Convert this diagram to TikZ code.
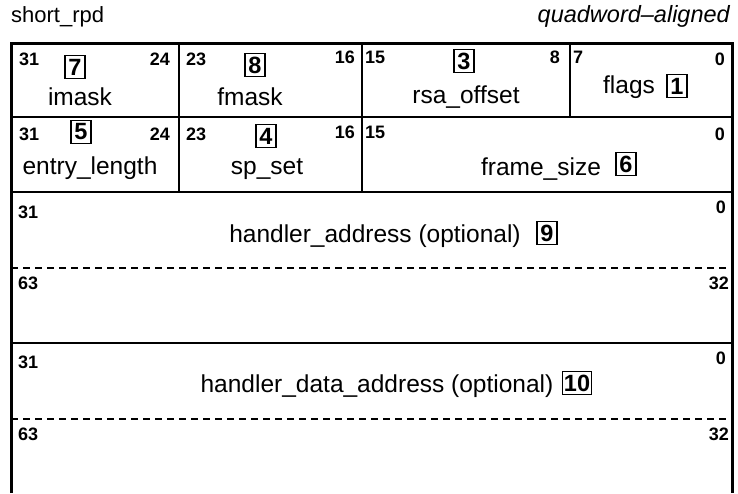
\documentclass[tikz,border=0pt]{standalone}
\usepackage{fontspec}
\setmainfont{Liberation Sans}

\begin{document}
\begin{tikzpicture}[x=1pt,y=-1pt,
  bitno/.style={font=\fontsize{18}{18}\selectfont\bfseries,inner sep=0pt},
  fieldname/.style={font=\fontsize{24.5}{24.5}\selectfont,inner sep=0pt,anchor=base},
  fieldno/.style={draw,line width=1.2pt,font=\fontsize{23.5}{23.5}\selectfont\bfseries,
    inner sep=3.4pt,minimum width=20pt},
  cellline/.style={line width=1.5pt},
  halfline/.style={line width=1.5pt,dash pattern=on 7pt off 5pt}]
\useasboundingbox (0,0) rectangle (738,493);
\node[font=\fontsize{22}{22}\selectfont,inner sep=0pt,anchor=base west] (title) at (11,22) {short\_rpd};
\node[font=\fontsize{23.5}{23.5}\selectfont\itshape,inner sep=0pt,anchor=base east] (align) at (730,22) {quadword–aligned};

% frame
\draw[line width=3pt] (11,493) -- (11,43) -- (732,43) -- (732,493);
\draw[cellline] (11,117) -- (732,117);
\draw[cellline] (11,192) -- (732,192);
\draw[halfline] (11,268) -- (732,268);
\draw[cellline] (11,343) -- (732,343);
\draw[halfline] (11,419) -- (732,419);
\draw[cellline] (179,43) -- (179,192);
\draw[cellline] (362,43) -- (362,192);
\draw[cellline] (570,43) -- (570,117);

% row 1
\node[bitno,anchor=base west] (r1b31) at (19,65) {31};
\node[bitno,anchor=base east] (r1b24) at (170,65) {24};
\node[bitno,anchor=base west] (r1b23) at (186,65) {23};
\node[bitno,anchor=base east] (r1b16) at (355,63) {16};
\node[bitno,anchor=base west] (r1b15) at (365,63) {15};
\node[bitno,anchor=base east] (r1b8) at (560,63) {8};
\node[bitno,anchor=base west] (r1b7) at (573,63) {7};
\node[bitno,anchor=base east] (r1b0) at (725,65) {0};
\node[fieldno] (f7) at (75,67) {7};
\node[fieldname] (imask) at (80,105) {imask};
\node[fieldno] (f8) at (255,65) {8};
\node[fieldname] (fmask) at (250,105) {fmask};
\node[fieldno] (f3) at (464,61) {3};
\node[fieldname] (rsa) at (466,103) {rsa\_offset};
\node[fieldname] (flags) at (629,93) {flags};
\node[fieldno] (f1) at (677,86) {1};

% row 2
\node[bitno,anchor=base west] (r2b31) at (19,140) {31};
\node[bitno,anchor=base east] (r2b24) at (170,140) {24};
\node[bitno,anchor=base west] (r2b23) at (186,140) {23};
\node[bitno,anchor=base east] (r2b16) at (355,138) {16};
\node[bitno,anchor=base west] (r2b15) at (365,138) {15};
\node[bitno,anchor=base east] (r2b0) at (725,140) {0};
\node[fieldno] (f5) at (81,132) {5};
\node[fieldname] (entry) at (90,174) {entry\_length};
\node[fieldno] (f4) at (266,136) {4};
\node[fieldname] (spset) at (267,174) {sp\_set};
\node[fieldname] (frame) at (541,175) {frame\_size};
\node[fieldno] (f6) at (626,164) {6};

% handler_address
\node[bitno,anchor=base west] (r3b31) at (18,218) {31};
\node[bitno,anchor=base east] (r3b0) at (726,213) {0};
\node[fieldname] (haddr) at (375,242) {handler\_address (optional)};
\node[fieldno] (f9) at (547,233) {9};
\node[bitno,anchor=base west] (r4b63) at (18,289) {63};
\node[bitno,anchor=base east] (r4b32) at (729,289) {32};

% handler_data_address
\node[bitno,anchor=base west] (r5b31) at (18,368) {31};
\node[bitno,anchor=base east] (r5b0) at (726,364) {0};
\node[fieldname] (hdata) at (377,392) {handler\_data\_address (optional)};
\node[fieldno,inner xsep=1.5pt] (f10) at (577,383) {10};
\node[bitno,anchor=base west] (r6b63) at (18,440) {63};
\node[bitno,anchor=base east] (r6b32) at (729,440) {32};
\end{tikzpicture}
\end{document}
